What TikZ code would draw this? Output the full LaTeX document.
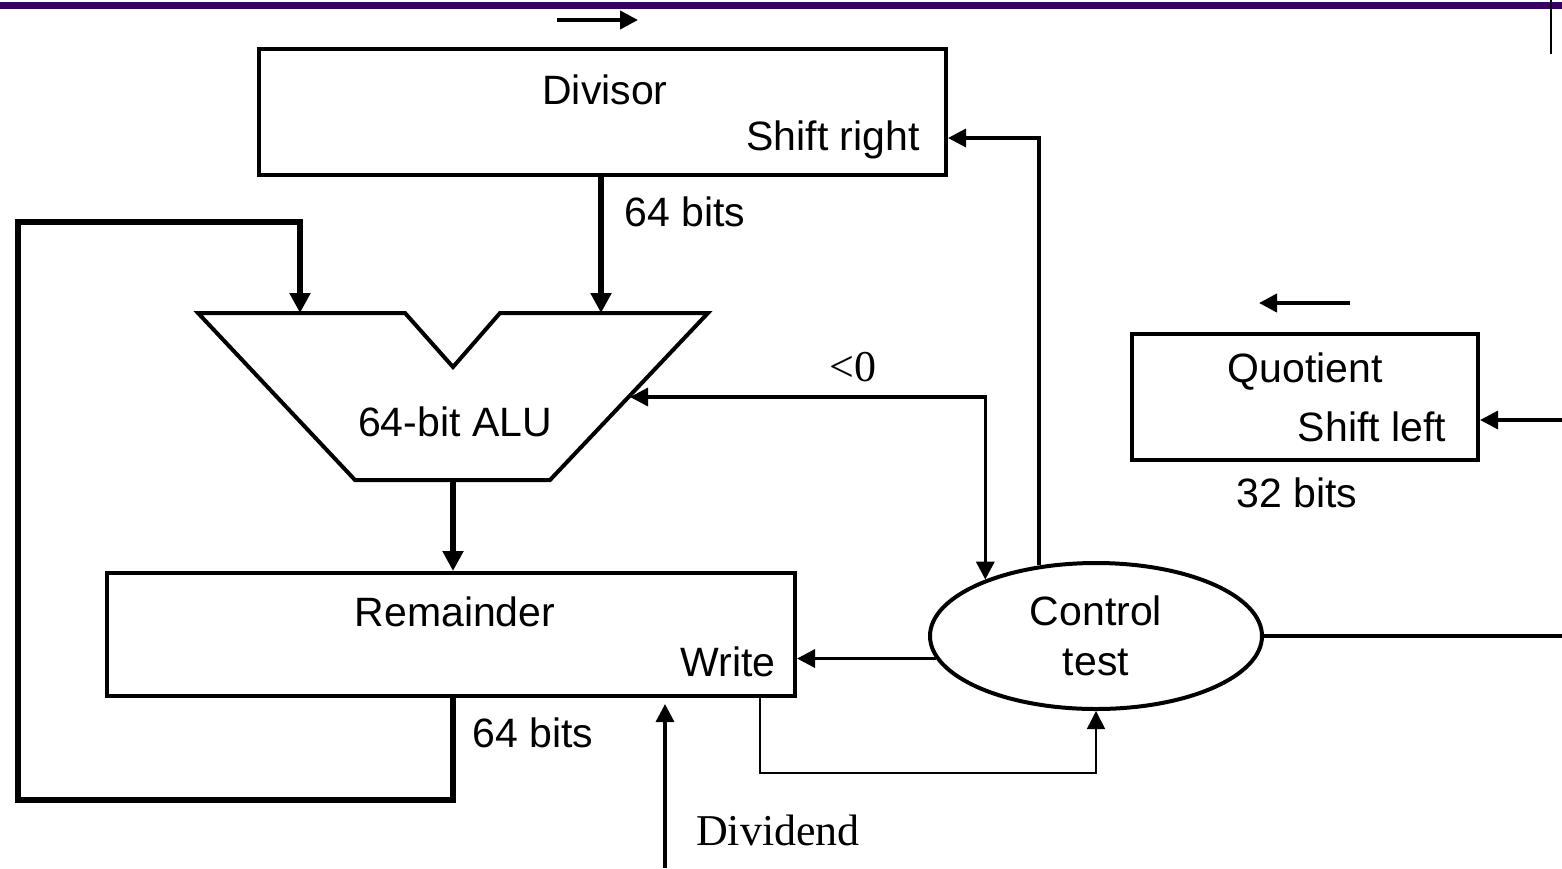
\documentclass[tikz,border=0pt]{standalone}
\usepackage{fontspec}
\setmainfont{Liberation Sans}
\newfontfamily\seriffont{Liberation Serif}
\usetikzlibrary{arrows.meta,shapes.geometric}
\definecolor{barpurple}{RGB}{56,0,102}
\tikzset{
  x=0.5pt, y=-0.5pt,
  lbl/.style={inner sep=0pt, font=\fontsize{20.5}{25}\selectfont},
  slbl/.style={inner sep=0pt, font=\seriffont\fontsize{22}{26}\selectfont},
  regbox/.style={draw, line width=2pt, inner sep=0pt},
  bus/.style={line width=3.2pt, -{Triangle[length=10pt,width=10pt]}},
  conn/.style={line width=1.7pt, -{Triangle[length=9pt,width=9pt]}},
  wire/.style={line width=0.8pt, -{Triangle[length=9pt,width=9pt]}},
  dirarrow/.style={line width=2pt, -{Triangle[length=9pt,width=9pt]}},
}
\begin{document}
\begin{tikzpicture}
  \useasboundingbox (0,0) rectangle (1562,868);

  % title rule and frame edge
  \fill[barpurple] (0,2) rectangle (1562,9);
  \draw[line width=1pt] (1551,0) -- (1551,54);

  % registers
  \node[regbox, minimum width=343.5pt, minimum height=63pt] (div) at (602.5,112) {};
  \node[regbox, minimum width=344pt, minimum height=61.5pt] (rem) at (451,634.5) {};
  \node[regbox, minimum width=173pt, minimum height=63pt] (quo) at (1305,397) {};
  \node[draw, line width=2pt, ellipse, minimum width=166pt, minimum height=73pt,
        inner sep=0pt, align=center, font=\fontsize{20.5}{25}\selectfont] (ctl) at (1096,636) {Control\\test};

  % register labels
  \node[lbl] (divname) at (605,90) {Divisor};
  \node[lbl] (divop) at (833,140) {Shift right};
  \node[lbl] (remname) at (455,612) {Remainder};
  \node[lbl] (remop) at (728,662) {Write};
  \node[lbl] (quoname) at (1305,372) {Quotient};
  \node[lbl] (quoop) at (1372,427) {Shift left};

  % ALU outline
  \draw[line width=2pt, line join=miter] (198,313) -- (405,313) -- (453,367) -- (500,313)
        -- (708,313) -- (550,480) -- (355,480) -- cycle;
  \node[lbl] (aluname) at (455,422) {64-bit ALU};
  \coordinate (aluA) at (300,313);
  \coordinate (aluB) at (601,313);
  \coordinate (aluOut) at (453,480);
  \coordinate (aluSide) at (630,397);

  % width labels
  \node[lbl] (w1) at (685,212) {64 bits};
  \node[lbl] (w2) at (533,733) {64 bits};
  \node[lbl] (w3) at (1297,493) {32 bits};
  \node[slbl] (neg) at (853,367) {\textless 0};
  \node[slbl] (dvdname) at (778,830) {Dividend};

  % shift direction marks
  \coordinate (s1a) at (557,20);   \coordinate (s1b) at (638,20);
  \coordinate (s2a) at (1350,303); \coordinate (s2b) at (1259,303);
  \draw[dirarrow] (s1a) -- (s1b);
  \draw[dirarrow] (s2a) -- (s2b);

  % data buses
  \draw[bus] (div.south -| aluB) -- (aluB);
  \draw[bus] (aluOut) -- (aluOut |- rem.north);
  \draw[bus, line join=miter] (rem.south -| aluOut) -- (453,800) -- (18,800) -- (18,222) -- (300,222) -- (aluA);

  % control signals
  \coordinate (srIn) at (div.east |- 0,138);
  \coordinate (slIn) at (quo.east |- 0,420);
  \coordinate (slSrc) at (1562,420);
  \coordinate (ctlOut) at (1562,636);
  \draw[conn, {Triangle[length=9pt,width=9pt]}-{Triangle[length=9pt,width=9pt]}]
        (aluSide) -- (aluSide -| ctl.153) -- (ctl.153);
  \draw[conn] (ctl.129) |- (srIn);
  \draw[conn] (ctl.188) -- (ctl.188 -| rem.east);
  \draw[conn, -] (ctl.east) -- (ctlOut);
  \draw[conn] (slSrc) -- (slIn);

  % write tap back to control, dividend input
  \coordinate (wtap) at (760,696);
  \draw[wire] (wtap) -- (760,773) -| (ctl.south);
  \coordinate (dvd) at (665,868);
  \draw[conn, shorten >=3pt] (dvd) -- (dvd |- rem.south);
\end{tikzpicture}
\end{document}
